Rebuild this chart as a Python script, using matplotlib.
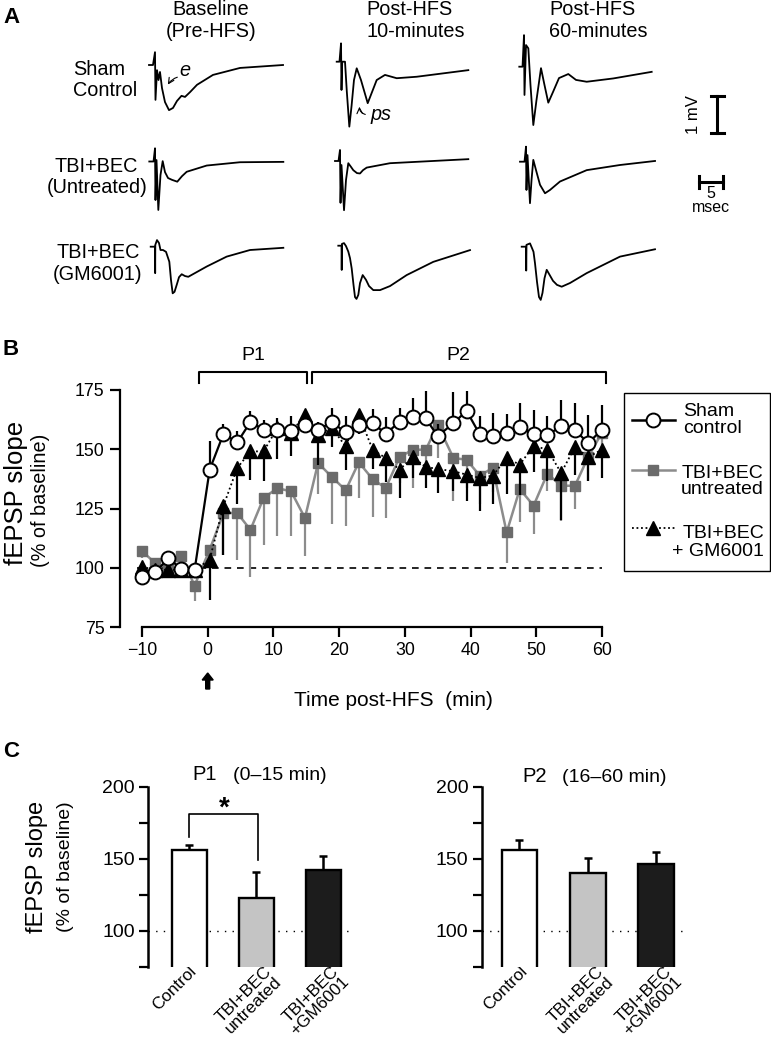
import numpy as np
import matplotlib
matplotlib.use("Agg")
import matplotlib.pyplot as plt
from matplotlib.patches import FancyArrow, Rectangle

plt.rcParams['font.family'] = ['Liberation Sans', 'DejaVu Sans']

W, H = 771, 1041          # figure size in px
PX_MS, PX_MV = 4.8, 36.7  # trace scale in panel A (px per ms, px per mV)

# ---------------- panel A: field potentials, (ms, mV) from sweep start
sham_pre = [(0, 0), (0.83, 0), (1.25, 0.35), (1.35, -0.95), (1.67, -0.14), (1.98, -0.41), (2.29, -0.19),
            (2.71, -0.63), (3.33, -1.01), (4.17, -1.23), (5.0, -1.17), (5.83, -0.98), (6.77, -0.84),
            (7.5, -0.87), (8.54, -0.74), (10.0, -0.54), (13.33, -0.27), (18.96, -0.08), (27.92, 0)]
sham_10 = [(0, 0), (0.58, 0), (0.9, 0.5), (1.0, -0.77), (1.15, 0.0), (1.73, 0.0), (2.1, -0.8), (2.63, -1.77),
           (3.1, -1.2), (3.6, -0.5), (4.17, -0.18), (5.06, -0.5), (6.46, -1.13), (7.35, -0.83), (8.33, -0.5),
           (10.06, -0.36), (12.5, -0.45), (16.67, -0.41), (27.42, -0.23)]
sham_60 = [(0, 0), (0.67, 0), (0.98, 0.86), (1.08, -0.77), (1.4, 0.59), (1.88, 0.5), (2.33, -0.5), (2.92, -1.59),
           (3.58, -0.91), (4.52, -0.04), (5.25, -0.5), (6.04, -0.98), (7.02, -0.69), (8.27, -0.31),
           (10.21, -0.2), (11.81, -0.36), (14.04, -0.41), (19.58, -0.32), (27.58, -0.14)]
untr_pre = [(0, 0), (0.88, 0), (1.19, 0.36), (1.29, -1.05), (1.5, 0.04), (1.88, -1.32), (2.33, -0.37),
            (2.79, 0.01), (3.27, -0.29), (3.9, -0.45), (4.73, -0.5), (5.83, -0.55), (6.81, -0.4),
            (7.79, -0.28), (11.96, -0.11), (18.9, -0.02), (27.92, -0.01)]
untr_10 = [(0, 0), (0.73, 0), (1.04, 0.3), (1.15, -1.14), (1.35, -0.11), (1.88, -1.34), (2.29, -0.52),
           (2.77, -0.06), (3.33, -0.16), (3.81, -0.25), (4.58, -0.33), (5.21, -0.34), (5.83, -0.25),
           (6.6, -0.18), (11.46, -0.06), (27.77, 0.05)]
untr_60 = [(0, 0), (0.94, 0), (1.25, 0.41), (1.35, -0.77), (1.56, 0.18), (2.08, -1.13), (2.4, -0.5),
           (2.77, 0.05), (3.44, -0.28), (4.17, -0.63), (5.21, -0.86), (6.25, -0.77), (8.33, -0.54),
           (13.9, -0.23), (20.83, -0.09), (28.13, 0.02)]
gm_pre = [(0, 0), (0.9, 0), (0.93, -0.72), (0.96, 0.05), (1.31, 0.18), (1.73, 0.1), (2.04, -0.09),
          (2.56, -0.09), (3.19, -0.14), (3.88, -0.41), (4.23, -0.91), (4.58, -1.27), (4.96, -1.23),
          (5.42, -1.04), (5.9, -0.83), (6.46, -0.75), (7.15, -0.8), (7.83, -0.82), (11.67, -0.54),
          (15.83, -0.27), (20.69, -0.09), (27.63, -0.03)]
gm_10 = [(0, 0), (0.67, 0), (0.71, -0.66), (0.77, 0.05), (1.19, 0.07), (1.6, -0.01), (2.08, -0.16),
         (2.44, -0.34), (2.79, -0.62), (3.17, -1.07), (3.48, -1.4), (3.79, -1.45), (4.17, -1.34),
         (4.52, -1.02), (5.08, -0.8), (5.77, -0.93), (6.4, -1.1), (7.29, -1.21), (8.69, -1.21),
         (10.77, -1.1), (14.25, -0.8), (19.79, -0.44), (27.44, -0.12)]
gm_60 = [(0, 0), (0.9, 0), (0.94, -0.65), (1.0, 0.05), (1.73, 0.09), (2.15, -0.04), (2.46, -0.14),
         (2.77, -0.45), (3.19, -0.96), (3.6, -1.37), (3.96, -1.45), (4.33, -1.26), (4.75, -0.86),
         (5.21, -0.63), (5.69, -0.74), (6.52, -0.93), (7.35, -1.04), (8.33, -1.09), (10.06, -0.99),
         (13.54, -0.72), (20.48, -0.27), (27.77, -0.07)]
traces = [sham_pre, sham_10, sham_60, untr_pre, untr_10, untr_60, gm_pre, gm_10, gm_60]
col_titles = [("Baseline", "(Pre-HFS)"), ("Post-HFS", "10-minutes"), ("Post-HFS", "60-minutes")]
row_titles = [("Sham", "Control"), ("TBI+BEC", "(Untreated)"), ("TBI+BEC", "(GM6001)")]

# ---------------- panel B: fEPSP slope time course (% of baseline)
time_min = [-10, -8, -6, -4, -2, 0.3, 2.4, 4.5, 6.5, 8.5, 10.6, 12.7, 14.8, 16.8, 18.9, 21, 23, 25.1,
            27.1, 29.2, 31.2, 33.2, 35, 37.4, 39.4, 41.4, 43.4, 45.5, 47.5, 49.6, 51.7, 53.8, 55.9, 57.9, 60]
sham_mean = [96, 98, 104, 99.5, 99, 141.4, 156.5, 152.9, 161.5, 158.3, 158.3, 157.9, 160.4, 158.3, 161.4,
             157.1, 160.4, 161.1, 156.5, 161.6, 163.5, 163, 155.5, 161, 166.2, 156.3, 155.5, 156.8, 159.4,
             156.5, 156, 159.7, 158.1, 152.6, 158.2]
sham_sem = [2, 3, 2, 2, 2, 12, 4, 5, 4.5, 4, 5, 6, 4, 3, 6, 7, 4, 6, 7, 5.6, 8, 11.5, 5, 13, 8.3, 7.8, 10,
            8, 10, 10, 8, 11, 11.5, 12, 10.5]
untr_mean = [107, 102, 100, 104.8, 92.5, 107.6, 123.1, 123.1, 116, 129.4, 133.6, 132.2, 121, 144.2, 138.3,
             132.7, 144.5, 137.4, 133.6, 146.7, 149.8, 149.8, 160.4, 146.3, 145.6, 138.9, 142.1, 114.9,
             133.2, 126.2, 139.7, 134.6, 134.6, 146.7, 157]
untr_sem = [3, 3, 3, 3, 6.5, 4, 17.6, 20, 20, 20, 20, 19, 16, 13, 20, 15, 15, 16, 12.6, 11, 16, 10, 14, 18,
            12, 12, 10, 13, 14, 12, 7.5, 15, 10, 10, 8]
gm_mean = [100.5, 99, 99.2, 99, 99, 103.4, 126.2, 142.1, 149.1, 149.1, 159, 157, 164.6, 156.2, 159, 151.2,
           164.6, 149.8, 146.3, 141.4, 146.7, 142.5, 141.7, 140.7, 139.3, 137.9, 138.9, 146.3, 143.5, 151.5,
           149.8, 140, 151, 146.7, 149.8]
gm_sem = [2, 2, 2, 2, 2, 17, 21, 15, 12, 12.6, 13, 10, 6, 13, 8, 10, 8, 8, 10, 12, 9, 9, 10, 8.5, 11, 14,
          12, 15, 13, 11, 13, 20, 12, 10, 12]

# ---------------- panel C: period averages
groups = ["Control", "TBI+BEC\nuntreated", "TBI+BEC\n+GM6001"]
bar_colors = ["white", "#c4c4c4", "#1c1c1c"]
p1_mean = [155.8, 122.5, 142.3]
p1_sem = [3.9, 18.1, 9.3]
p2_mean = [155.8, 140.4, 146.5]
p2_sem = [7.0, 10.0, 8.1]


def box(x0, y0, x1, y1):
    return [x0 / W, 1 - y1 / H, (x1 - x0) / W, (y1 - y0) / H]


fig = plt.figure(figsize=(W / 100, H / 100), dpi=100)

# ---- A
axA = fig.add_axes(box(0, 0, W, 320))
axA.set_xlim(0, W / PX_MS)
axA.set_ylim(-320 / PX_MV, 0)
axA.axis("off")
origins = [(149, 65), (336.7, 61.7), (519.3, 66.7), (149.3, 161.5), (335, 161), (520, 161.7),
           (150.7, 246.7), (338.3, 245.7), (521.7, 246.7)]
for tr, (x0, y0) in zip(traces, origins):
    ms, mv = np.array(tr).T
    axA.plot(x0 / PX_MS + ms, -y0 / PX_MV + mv, color="k", lw=1.3, solid_joinstyle="round")
# scale bars: 1 mV and 5 ms
sx, sy = 717.3 / PX_MS, -133 / PX_MV
axA.plot([sx, sx], [sy, sy + 1], color="k", lw=2.2)
for yy in (sy, sy + 1):
    axA.plot([sx - 1.3, sx + 1.3], [yy, yy], color="k", lw=2.2)
hx, hy = 699.3 / PX_MS, -181.7 / PX_MV
axA.plot([hx, hx + 5], [hy, hy], color="k", lw=2.2)
for xx in (hx, hx + 5):
    axA.plot([xx, xx], [hy - 0.16, hy + 0.16], color="k", lw=2.2)

# overlay in pixel coordinates for labels
ov = fig.add_axes([0, 0, 1, 1], zorder=10)
ov.set_xlim(0, W)
ov.set_ylim(H, 0)
ov.axis("off")


def txt(x, y, s, size=14.3, **kw):
    kw.setdefault("va", "baseline")
    ov.text(x, y, s, fontsize=size, **kw)


txt(3, 23, "A", size=16, weight="bold")
txt(3, 355, "B", size=16, weight="bold")
txt(3, 757, "C", size=16, weight="bold")

txt(211, 15, col_titles[0][0], ha="center")
txt(211, 37, col_titles[0][1], ha="center")
txt(366, 15, col_titles[1][0])
txt(366, 37, col_titles[1][1])
txt(549, 15, col_titles[2][0])
txt(549, 37, col_titles[2][1])

txt(73, 75, row_titles[0][0])
txt(73, 96.5, row_titles[0][1])
txt(96, 171.5, row_titles[1][0], ha="center")
txt(97, 193, row_titles[1][1], ha="center")
txt(98, 258, row_titles[2][0], ha="center")
txt(98, 280, row_titles[2][1], ha="center")

txt(185, 70, "e", va="center", ha="center", style="italic")
ov.annotate("", xy=(166.5, 87), xytext=(180, 76.5),
            arrowprops=dict(arrowstyle="->", lw=0.8, connectionstyle="arc3,rad=0.25"))
txt(370, 120, "ps", style="italic")
ov.annotate("", xy=(359.5, 104), xytext=(368, 115),
            arrowprops=dict(arrowstyle="->", lw=0.8, connectionstyle="arc3,rad=-0.5"))
txt(694, 114.5, "1 mV", size=12, rotation=90, ha="center", va="center")
txt(711, 198, "5", size=11.5, ha="center")
txt(711, 212.5, "msec", size=11.5, ha="center")

# ---- B
axB = fig.add_axes(box(120, 390, 605, 627))
axB.set_xlim(-13.35, 60.47)
axB.set_ylim(75, 175)
t = np.array(time_min)
zero = np.zeros(len(t))
axB.plot([-10.8, 60], [100, 100], color="k", lw=1.2, ls=(0, (4, 3.5)), zorder=1)

gray_line, gray_mark = "#8c8c8c", "#6b6b6b"
axB.errorbar(t, untr_mean, yerr=[untr_sem, zero], fmt="none", ecolor=gray_line, elinewidth=1.6,
             capsize=0, zorder=2, clip_on=False)
axB.plot(t, untr_mean, color=gray_line, lw=1.8, marker="s", ms=7.5, mfc=gray_mark, mec=gray_mark,
         zorder=2.1, clip_on=False)
axB.errorbar(t, gm_mean, yerr=[gm_sem, zero], fmt="none", ecolor="k", elinewidth=1.6,
             capsize=0, zorder=3, clip_on=False)
axB.plot(t, gm_mean, color="k", lw=1.3, ls=(0, (1, 1.5)), marker="^", ms=9.5, mfc="k", mec="k",
         zorder=3.1, clip_on=False)
axB.errorbar(t, sham_mean, yerr=[zero, sham_sem], fmt="none", ecolor="k", elinewidth=1.6,
             capsize=0, zorder=4, clip_on=False)
axB.plot(t, sham_mean, color="k", lw=1.6, marker="o", ms=10, mfc="white", mec="k", mew=1.4,
         zorder=4.1, clip_on=False)

for s in ("top", "right"):
    axB.spines[s].set_visible(False)
for s in ("left", "bottom"):
    axB.spines[s].set_linewidth(1.6)
axB.spines["left"].set_bounds(75, 175)
axB.spines["bottom"].set_bounds(-10, 60)
axB.set_yticks([75, 100, 125, 150, 175])
axB.set_xticks(range(-10, 61, 10))
axB.tick_params(direction="out", length=7, width=1.6, labelsize=12.8, pad=4)

# P1 / P2 brackets
for x0, x1, lab in ((-1.3, 15.1, "P1"), (15.8, 60.6, "P2")):
    axB.plot([x0, x0, x1, x1], [178.1, 182.5, 182.5, 178.1], color="k", lw=1.5, clip_on=False)
    axB.text((x0 + x1) / 2, 187.8, lab, ha="center", va="baseline", fontsize=14)

txt(16, 493, "fEPSP slope", size=18.5, rotation=90, ha="center", va="center")
txt(41, 500, "(% of baseline)", size=14.3, rotation=90, ha="center", va="center")
txt(393, 700, "Time post-HFS  (min)", size=15, ha="center", va="center")
ov.add_patch(FancyArrow(207.7, 689, 0, -16, width=4, head_width=11, head_length=7,
                        length_includes_head=True, color="k"))

# legend, drawn by hand to keep its text alignment
ov.add_patch(Rectangle((624.3, 393.3), 145.7, 177.7, fill=False, lw=1.0, ec="k"))
ov.plot([631.7, 675], [420, 420], color="k", lw=1.8)
ov.plot([652.7], [420], marker="o", ms=10, mfc="white", mec="k", mew=1.4)
ov.plot([631.7, 675], [470, 470], color=gray_line, lw=1.8)
ov.plot([652.7], [470], marker="s", ms=7.5, mfc=gray_mark, mec=gray_mark)
ov.plot([631.7, 675], [528.3, 528.3], color="k", lw=1.3, ls=(0, (1, 1.5)))
ov.plot([652.7], [528.3], marker="^", ms=9.5, mfc="k", mec="k")
txt(683.3, 416, "Sham", size=14)
txt(683.3, 433, "control", size=14)
txt(763, 478, "TBI+BEC", ha="right", size=14)
txt(764, 494, "untreated", ha="right", size=14)
txt(764, 538, "TBI+BEC", ha="right", size=14)
txt(764, 556, "+ GM6001", ha="right", size=14)

# ---- C
def bars(rect, xlim, means, sems):
    ax = fig.add_axes(box(*rect))
    x = np.arange(len(means))
    ax.set_xlim(*xlim)
    ax.set_ylim(75, 200)
    ax.plot([xlim[0], 2.42], [100, 100], color="k", lw=1.0, ls=(0, (1, 4.5)), zorder=1)
    ax.errorbar(x, means, yerr=[np.zeros(len(x)), sems], fmt="none", ecolor="k", elinewidth=1.8,
                capsize=2.6, capthick=1.8, zorder=2)
    ax.bar(x, means, width=0.52, bottom=0, color=bar_colors, edgecolor="k", linewidth=1.7, zorder=3)
    for s in ("top", "right", "bottom"):
        ax.spines[s].set_visible(False)
    ax.spines["left"].set_linewidth(1.8)
    ax.set_yticks([75, 100, 125, 150, 175, 200], ["", "100", "", "150", "", "200"])
    ax.tick_params(axis="y", direction="out", length=6.5, width=1.6, labelsize=14, pad=3)
    ax.set_xticks(x + np.array([0.0, 0.12, 0.12]), groups, rotation=45, ha="right",
                  rotation_mode="anchor", fontsize=12.3, linespacing=0.92)
    ax.tick_params(axis="x", length=0, pad=-2)
    return ax


axC1 = bars((148.3, 786.7, 353.4, 966.7), (-0.61, 2.45), p1_mean, p1_sem)
axC2 = bars((481.7, 786.7, 686.2, 966.7), (-0.553, 2.44), p2_mean, p2_sem)

axC1.plot([0, 0, 1.02, 1.02], [165, 180.7, 180.7, 149.3], color="k", lw=1.2, clip_on=False)
txt(224, 816, "*", size=20, weight="bold", ha="center")

txt(192.7, 780, "P1", size=14.5)
txt(233.3, 780, "(0\u201315 min)", size=14)
txt(522.7, 781.5, "P2", size=14.5)
txt(561.7, 781.5, "(16\u201360 min)", size=14)
txt(36.7, 867, "fEPSP slope", size=17, rotation=90, ha="center", va="center")
txt(65, 867, "(% of baseline)", size=14, rotation=90, ha="center", va="center")

fig.savefig("out.png", dpi=100)
